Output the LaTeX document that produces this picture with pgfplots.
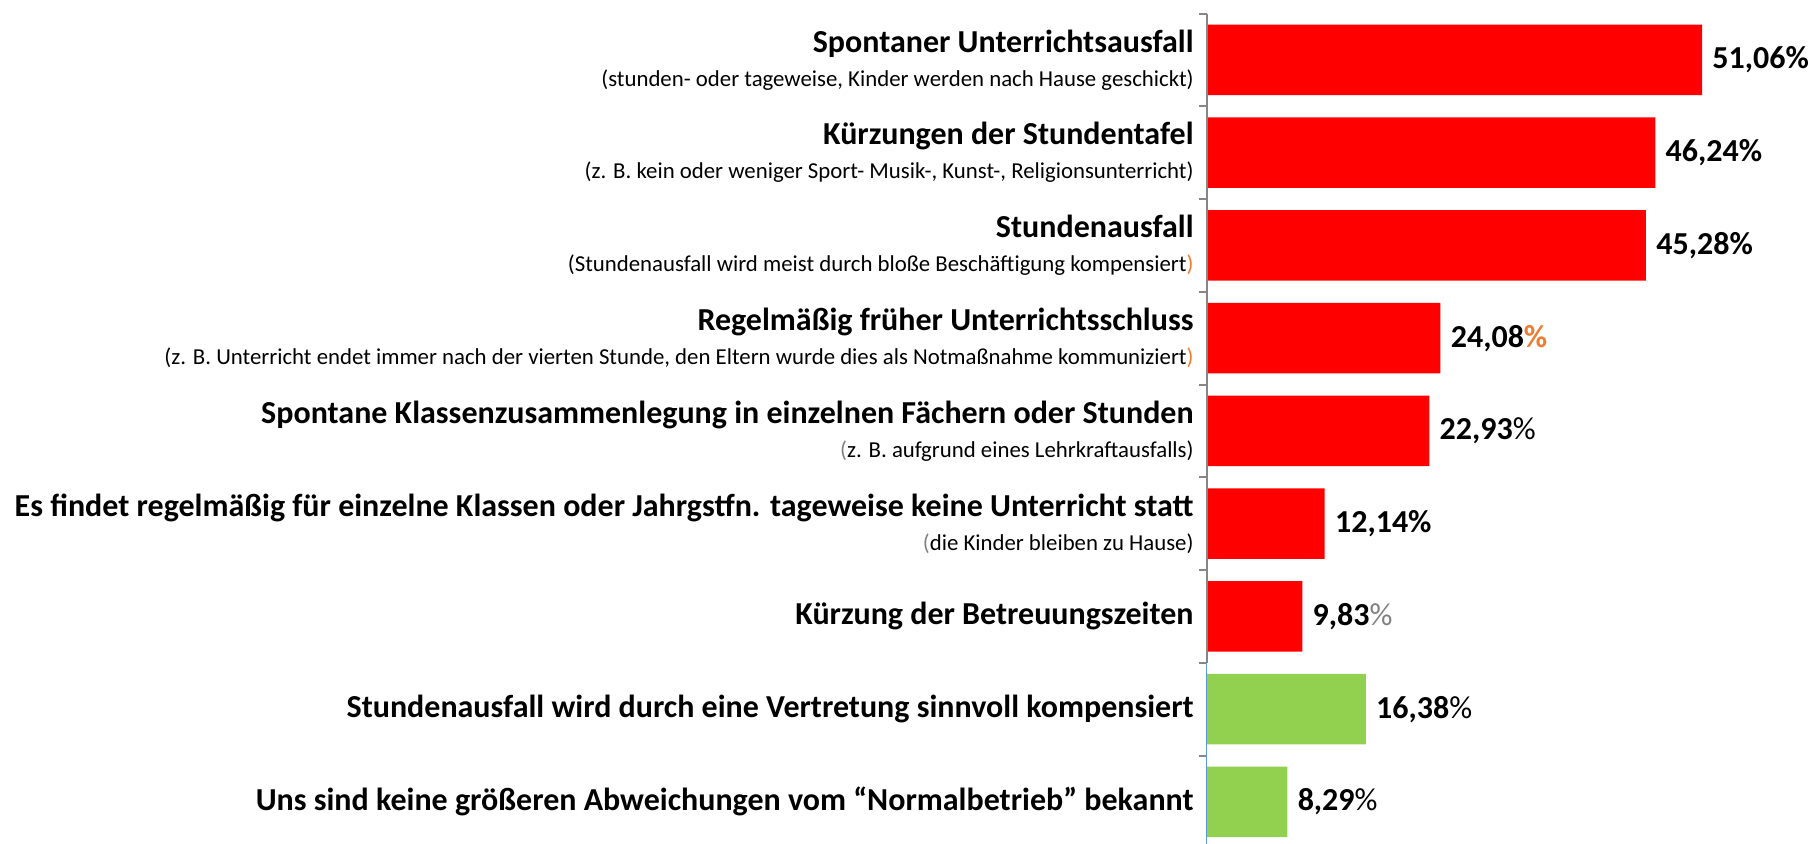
\documentclass[border=0pt]{standalone}
\usepackage{fontspec}
\setmainfont{Carlito}
\usepackage{pgfplots}
\pgfplotsset{compat=1.18}
\definecolor{barred}{RGB}{255,0,0}
\definecolor{bargreen}{RGB}{146,208,80}
\definecolor{axgray}{RGB}{134,134,134}
\definecolor{axblue}{RGB}{91,155,213}
\definecolor{offorange}{RGB}{237,125,49}
\newcommand{\lab}[2]{{\fontsize{16}{19}\selectfont\bfseries #1}\\[5pt]{\fontsize{11.4}{14}\selectfont #2}}
\newcommand{\one}[1]{{\fontsize{16}{19}\selectfont\bfseries #1}}
\newcommand{\orp}{\textcolor{offorange}{)}}
\newcommand{\grp}{\textcolor{gray}{(}}
\begin{document}
\begin{tikzpicture}
\begin{axis}[scale only axis, width=302pt, height=415pt,
  xmin=0, xmax=62.3, ymin=-0.5, ymax=8.45, y dir=reverse,
  xbar, bar width=0.76, bar shift=0pt,
  axis x line=none, axis y line*=left, y axis line style={draw=none},
  ytick={0,...,8},
  yticklabels={
    {\lab{Spontaner Unterrichtsausfall}{(stunden- oder tageweise, Kinder werden nach Hause geschickt)}},
    {\lab{Kürzungen der Stundentafel}{(z. B. kein oder weniger Sport- Musik-, Kunst-, Religionsunterricht)}},
    {\lab{Stundenausfall}{(Stundenausfall wird meist durch bloße Beschäftigung kompensiert\orp}},
    {\lab{Regelmäßig früher Unterrichtsschluss}{(z. B. Unterricht endet immer nach der vierten Stunde, den Eltern wurde dies als Notmaßnahme kommuniziert\orp}},
    {\lab{Spontane Klassenzusammenlegung in einzelnen Fächern oder Stunden}{\grp z. B. aufgrund eines Lehrkraftausfalls)}},
    {\lab{Es findet regelmäßig für einzelne Klassen oder Jahrgstfn. tageweise keine Unterricht statt}{\grp die Kinder bleiben zu Hause)}},
    {\one{Kürzung der Betreuungszeiten}},
    {\one{Stundenausfall wird durch eine Vertretung sinnvoll kompensiert}},
    {\one{Uns sind keine größeren Abweichungen vom “Normalbetrieb” bekannt}}},
  yticklabel style={align=right, anchor=east, inner sep=0pt, xshift=-2.5pt},
  ytick style={draw=none}, major tick length=4pt, tick align=outside,
  extra y ticks={-0.5,0.5,1.5,2.5,3.5,4.5,5.5,6.5,7.5}, extra y tick labels={},
  extra y tick style={ytick style={draw=axgray, line width=1pt}},
  nodes near coords, point meta=explicit symbolic,
  nodes near coords style={anchor=west, inner sep=0pt, xshift=5pt,
    font=\fontsize{16}{19}\selectfont\bfseries},
  clip=false]
\addplot[fill=barred, draw=none] coordinates {
  (51.06,0) [51,06\%]
  (46.24,1) [46,24\%]
  (45.28,2) [45,28\%]
  (24.08,3) [24,08\textcolor{offorange}{\%}]
  (22.93,4) [22,93{\mdseries\%}]
  (12.14,5) [12,14\%]
  (9.83,6) [9,83{\mdseries\color{gray}\%}]
};
\addplot[fill=bargreen, draw=none] coordinates {
  (16.38,7) [16,38{\mdseries\%}]
  (8.29,8) [8,29{\mdseries\%}]
};
\draw[axgray, line width=1.2pt] (axis cs:0,-0.5) -- (axis cs:0,6.5);
\draw[axblue, line width=0.5pt] (axis cs:0,6.5) -- (axis cs:0,8.45);
\end{axis}
\pgfresetboundingbox
\path[use as bounding box] ([xshift=-603.5pt]current axis.south west) rectangle ([yshift=6.8pt]current axis.north east);
\end{tikzpicture}
\end{document}
